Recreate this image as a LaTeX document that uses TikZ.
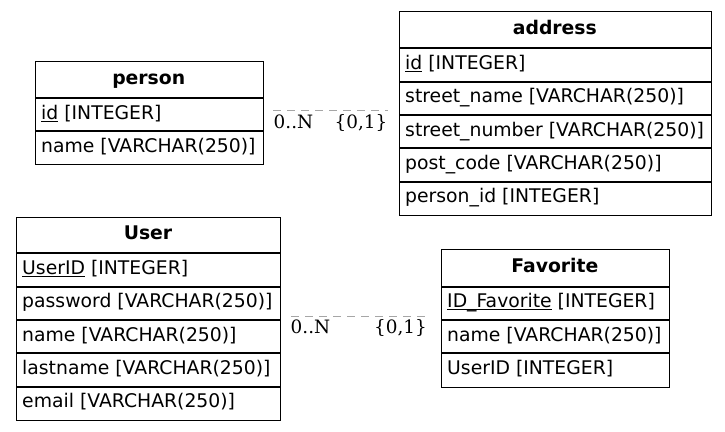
\documentclass[tikz,border=0pt]{standalone}
\usepackage{fontspec}
\usepackage{graphicx}
\setmainfont{DejaVu Sans}
\newfontfamily\labelfont{DejaVu Serif}
\newcommand\pkey[1]{\setbox0\hbox{#1}\rlap{\rule[-2.2pt]{\wd0}{0.9pt}}\box0\relax}
\tikzset{
  tbl/.style={draw=black, line width=1pt, anchor=north west, inner sep=0, fill=white},
  sep/.style={draw=black, line width=1.8pt},
  fld/.style={anchor=base west, inner sep=0, font=\fontsize{18.8}{20}\selectfont},
  hdr/.style={anchor=base, inner sep=0, font=\fontsize{18.8}{20}\selectfont\bfseries},
  lbl/.style={inner sep=0, font=\labelfont\fontsize{18.4}{19}\selectfont},
  rel/.style={draw=black!35, line width=1.2pt, dash pattern=on 8pt off 6pt},
}
\begin{document}
\begin{tikzpicture}[x=1pt,y=-1pt]
\useasboundingbox[fill=white] (0,0) rectangle (725,431);

% person
\node[tbl, minimum width=227.5pt, minimum height=103.3pt] (person) at (35,61) {};
\draw[sep] (35,98) -- (262.5,98);
\draw[sep] (35,131) -- (262.5,131);
\node[hdr] (personh) at (148.75,84.5) {person};
\node[fld] (person1) at (41,119.2) {\pkey{id} [INTEGER]};
\node[fld] (person2) at (41,152.2) {name [VARCHAR(250)]};

% address
\node[tbl, minimum width=311.7pt, minimum height=204pt] (address) at (399,11) {};
\foreach \yy in {48,82,115,148,182}{\draw[sep] (399,\yy) -- (710.7,\yy);}
\node[hdr] (addressh) at (554.85,34.5) {address};
\node[fld] (address1) at (405,69.5) {\pkey{id} [INTEGER]};
\node[fld] (address2) at (405,102.8) {street\_name [VARCHAR(250)]};
\node[fld] (address3) at (405,136.1) {street\_number [VARCHAR(250)]};
\node[fld] (address4) at (405,169.4) {post\_code [VARCHAR(250)]};
\node[fld] (address5) at (405,202.7) {person\_id [INTEGER]};

% User
\node[tbl, minimum width=264pt, minimum height=203.7pt] (user) at (16,216.7) {};
\foreach \yy in {253,287,320,353,387}{\draw[sep] (16,\yy) -- (280,\yy);}
\node[hdr] (userh) at (148,239.8) {User};
\node[fld] (user1) at (22,274.5) {\pkey{UserID} [INTEGER]};
\node[fld] (user2) at (22,307.8) {password [VARCHAR(250)]};
\node[fld] (user3) at (22,341.1) {name [VARCHAR(250)]};
\node[fld] (user4) at (22,374.4) {lastname [VARCHAR(250)]};
\node[fld] (user5) at (22,407.7) {email [VARCHAR(250)]};

% Favorite
\node[tbl, minimum width=227.7pt, minimum height=137.4pt] (fav) at (441,249.3) {};
\foreach \yy in {287,320,353}{\draw[sep] (441,\yy) -- (668.7,\yy);}
\node[hdr] (favh) at (554.85,272.5) {Favorite};
\node[fld] (fav1) at (447,307.8) {\pkey{ID\_Favorite} [INTEGER]};
\node[fld] (fav2) at (447,341.1) {name [VARCHAR(250)]};
\node[fld] (fav3) at (447,374.4) {UserID [INTEGER]};

% relation person - address
\coordinate (r1a) at (273,110.8);
\coordinate (r1b) at (388,110.8);
\draw[rel] (r1a) -- (r1b);
\node[lbl, anchor=base west] (r1t) at (273.5,128.3) {0..N};
\node[lbl, anchor=base east] (r1h) at (387.5,128.3) {\{0,1\}};

% relation User - Favorite
\coordinate (r2a) at (291,316.4);
\coordinate (r2b) at (427,316.4);
\draw[rel] (r2a) -- (r2b);
\node[lbl, anchor=base west] (r2t) at (290.5,333.3) {0..N};
\node[lbl, anchor=base east] (r2h) at (427,333.3) {\{0,1\}};
\end{tikzpicture}
\end{document}
